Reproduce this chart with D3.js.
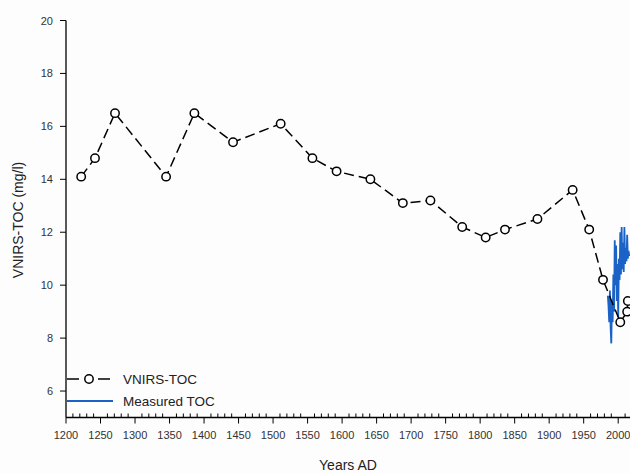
<!DOCTYPE html>
<html><head><meta charset="utf-8">
<script src="https://cdn.jsdelivr.net/npm/d3@7"></script>
<style>body{margin:0;background:#fdfdfd}svg{display:block}</style>
</head><body>
<svg id="c" width="630" height="473"></svg>
<script>
const vnirsYears = [1222,1242,1271,1345,1386,1442,1511,1557,1592,1641,1688,1728,1774,1808,1836,1883,1934,1958,1978,2003,2013,2014];
const vnirsValues = [14.1,14.8,16.5,14.1,16.5,15.4,16.1,14.8,14.3,14.0,13.1,13.2,12.2,11.8,12.1,12.5,13.6,12.1,10.2,8.6,9.0,9.4];
const measuredYears = [1985,1986,1987,1988,1989,1990,1991,1992,1993,1994,1995,1996,1997,1998,1999,2000,2001,2002,2003,2004,2005,2006,2007,2008,2009,2010,2011,2012,2013,2014,2015,2016];
const measuredValues = [9.6,9.2,8.6,9.8,8.4,7.8,9.4,8.6,10.4,9.0,11.7,10.0,11.5,9.4,10.8,8.8,11.0,10.2,12.0,10.4,12.2,10.6,11.6,10.5,12.2,10.8,11.4,10.9,11.9,11.0,11.3,11.1];
const yTicks = [6,8,10,12,14,16,18,20];
const xTicks = [1200,1250,1300,1350,1400,1450,1500,1550,1600,1650,1700,1750,1800,1850,1900,1950,2000];
const legendLabels = ["VNIRS-TOC","Measured TOC"];

const svg = d3.select("#c");
const x = d3.scaleLinear().domain([1200, 2020]).range([66, 632]);
const y = d3.scaleLinear().domain([5, 20]).range([417.5, 20.5]);
const font = "Arial, 'Liberation Sans', sans-serif";

// y axis
svg.append("line").attr("x1",66).attr("x2",66).attr("y1",y(20)).attr("y2",y(5)).attr("stroke","#000").attr("stroke-width",1.3);
yTicks.forEach(t=>{
  svg.append("line").attr("x1",60).attr("x2",66).attr("y1",y(t)).attr("y2",y(t)).attr("stroke","#000").attr("stroke-width",1);
  svg.append("text").attr("x",53).attr("y",y(t)+4).attr("text-anchor","end")
    .attr("font-family",font).attr("font-size",11).attr("fill","#333").text(t);
});
// x axis
svg.append("line").attr("x1",66).attr("x2",632).attr("y1",y(5)).attr("y2",y(5)).attr("stroke","#000").attr("stroke-width",1.3);
d3.range(1200, 2021, 10).forEach(t=>{
  if (t % 50 === 0) {
    svg.append("line").attr("x1",x(t)).attr("x2",x(t)).attr("y1",y(5)).attr("y2",y(5)+6).attr("stroke","#000").attr("stroke-width",1);
  } else {
    svg.append("line").attr("x1",x(t)).attr("x2",x(t)).attr("y1",y(5)-4).attr("y2",y(5)).attr("stroke","#000").attr("stroke-width",1);
  }
});
xTicks.forEach(t=>{
  svg.append("text").attr("x",x(t)).attr("y",y(5)+21).attr("text-anchor","middle")
    .attr("font-family",font).attr("font-size",11).attr("fill","#333").text(t);
});
svg.append("text").attr("x",348).attr("y",470).attr("text-anchor","middle")
  .attr("font-family",font).attr("font-size",14).attr("fill","#222").text("Years AD");
svg.append("text").attr("transform","translate(23,220) rotate(-90)").attr("text-anchor","middle")
  .attr("font-family",font).attr("font-size",14).attr("fill","#222").text("VNIRS-TOC (mg/l)");

// measured
const meas = measuredYears.map((d,i)=>[d, measuredValues[i]]);
svg.append("path").datum(meas)
  .attr("d", d3.line().x(d=>x(d[0])).y(d=>y(d[1])))
  .attr("fill","none").attr("stroke","#1b62c6").attr("stroke-width",1.8);

// vnirs
const vn = vnirsYears.map((d,i)=>[d, vnirsValues[i]]);
svg.append("path").datum(vn)
  .attr("d", d3.line().x(d=>x(d[0])).y(d=>y(d[1])))
  .attr("fill","none").attr("stroke","#000").attr("stroke-width",1.5).attr("stroke-dasharray","10,5");
svg.selectAll("circle.p").data(vn).join("circle").attr("class","p")
  .attr("cx",d=>x(d[0])).attr("cy",d=>y(d[1])).attr("r",4.2)
  .attr("fill","#fff").attr("stroke","#000").attr("stroke-width",1.5);

// legend
svg.append("line").attr("x1",67).attr("x2",79).attr("y1",379).attr("y2",379).attr("stroke","#000").attr("stroke-width",1.5);
svg.append("line").attr("x1",98).attr("x2",110).attr("y1",379).attr("y2",379).attr("stroke","#000").attr("stroke-width",1.5);
svg.append("circle").attr("cx",89).attr("cy",379).attr("r",4.2).attr("fill","#fff").attr("stroke","#000").attr("stroke-width",1.5);
svg.append("text").attr("x",123).attr("y",384).attr("font-family",font).attr("font-size",13.5).attr("fill","#222").text(legendLabels[0]);
svg.append("line").attr("x1",67).attr("x2",113).attr("y1",401).attr("y2",401).attr("stroke","#1b62c6").attr("stroke-width",2);
svg.append("text").attr("x",123).attr("y",406).attr("font-family",font).attr("font-size",13.5).attr("fill","#222").text(legendLabels[1]);
</script>
</body></html>
